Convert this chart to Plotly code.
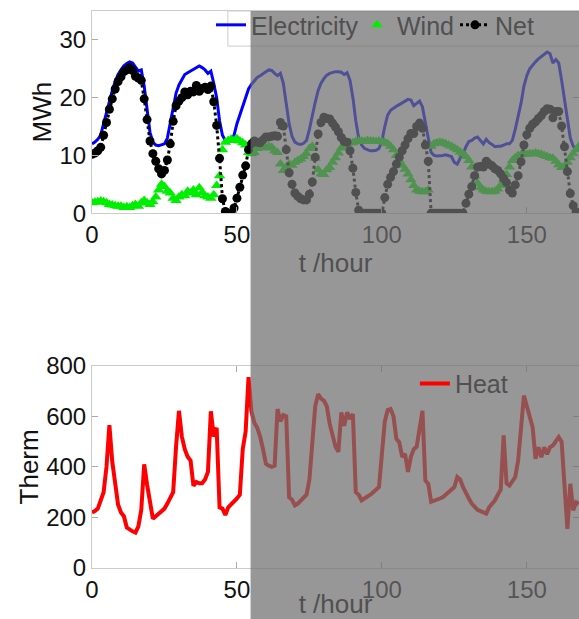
import plotly.graph_objects as go

# ---------------- data ----------------
hours = list(range(0, 169))

electricity = [
    12.0, 12.3, 12.8, 13.5, 15.5, 17.5, 19.5, 21.2, 22.8, 24.0,
    24.8, 25.5, 25.9, 26.2, 26.0, 25.2, 24.6, 24.8, 22.0, 18.0,
    14.0, 12.3, 11.8, 11.7, 11.8, 12.0, 13.0, 15.5, 18.5, 20.8,
    22.2, 23.2, 24.0, 24.3, 24.6, 25.0, 25.3, 25.5, 25.2, 24.8,
    24.2, 24.6, 22.5, 20.0, 16.0, 13.5, 12.6, 12.3, 12.5, 13.5,
    15.5, 17.0, 18.8, 20.0, 21.5, 22.3, 23.0, 23.5, 23.8, 24.2,
    24.5, 24.8, 24.7, 24.2, 23.8, 24.2, 22.5, 19.0, 15.5, 13.3,
    12.3, 12.0, 11.9, 12.1, 12.6, 14.5, 17.0, 19.2, 21.2, 22.5,
    23.3, 23.9, 24.2, 24.4, 24.5, 24.5, 24.4, 24.0, 24.3, 23.0,
    20.0, 16.0, 13.0, 11.8, 11.2, 11.0, 10.8, 10.8, 10.9, 11.2,
    12.5, 15.0, 17.0, 17.8, 18.2, 18.5, 18.8, 19.1, 19.4, 19.7,
    19.6, 18.6, 19.0, 19.4, 18.4, 15.5, 13.0, 10.5, 10.0, 9.9,
    9.9, 10.0, 10.1, 10.0, 9.8, 8.8, 8.5, 9.5, 10.3, 11.5,
    12.4, 12.6, 13.0, 13.2, 12.5, 12.0, 12.8, 12.2, 11.9, 11.5,
    11.6, 11.6, 11.8, 12.0, 12.0, 12.6, 14.5, 16.5, 19.0, 22.0,
    23.8, 25.0, 25.7, 26.2, 26.7, 27.1, 27.6, 27.9, 27.6, 26.0,
    26.6, 26.0, 23.0, 19.5, 16.0, 13.0, 11.6, 11.2, 11.0,
]

wind = [
    1.8, 1.9, 2.0, 2.1, 2.0, 1.8, 1.5, 1.4, 1.3, 1.2,
    1.2, 1.0, 1.1, 1.0, 1.3, 1.5, 1.2, 1.8, 2.2, 1.8,
    1.5, 2.0, 2.8, 4.0, 5.0, 4.6, 3.8, 3.5, 2.6, 2.2,
    2.8, 3.2, 3.0, 3.8, 3.5, 4.0, 3.2, 4.4, 3.6, 3.0,
    2.8, 2.6, 3.2, 4.8, 6.5, 11.0, 12.3, 12.6, 12.8, 12.6,
    12.9, 12.5, 12.2, 11.8, 10.5, 10.3, 10.5, 11.2, 11.6, 11.5,
    11.3, 11.6, 11.4, 10.8, 10.5, 8.5, 7.4, 8.0, 8.5, 8.3,
    8.8, 9.1, 9.4, 9.8, 10.3, 11.2, 11.6, 9.5, 7.5, 6.8,
    6.7, 7.5, 7.9, 8.8, 9.6, 10.4, 11.3, 11.6, 12.0, 12.2,
    12.2, 12.4, 12.5, 12.5, 12.4, 12.6, 12.5, 12.5, 12.4, 12.5,
    12.4, 12.3, 12.0, 11.6, 11.0, 10.0, 9.1, 8.3, 7.6, 6.8,
    5.8, 4.8, 4.0, 3.8, 3.7, 3.7, 4.0, 11.6, 12.0, 12.2,
    12.3, 12.2, 12.0, 11.8, 11.6, 11.3, 11.0, 10.6, 10.3, 9.8,
    9.1, 8.0, 6.5, 5.2, 4.4, 4.0, 3.8, 3.7, 3.7, 3.8,
    4.2, 4.8, 5.8, 6.7, 8.0, 9.1, 9.6, 10.0, 10.1, 10.2,
    10.2, 10.3, 10.3, 10.4, 10.3, 10.2, 10.0, 9.8, 9.6, 9.5,
    9.0, 8.4, 7.9, 8.0, 8.8, 9.6, 10.3, 11.0, 11.6,
]

net = [
    10.2, 10.4, 10.8, 11.4, 13.5, 15.7, 18.0, 19.8, 21.5, 22.8,
    23.6, 24.5, 24.8, 25.2, 24.7, 23.7, 23.4, 23.0, 19.8, 16.2,
    12.5, 10.3, 9.0, 7.7, 6.8, 7.4, 9.2, 12.0, 15.9, 18.6,
    19.4, 20.0, 21.0, 20.5, 21.1, 21.0, 22.1, 21.1, 21.6, 21.8,
    21.4, 22.0, 19.3, 15.2, 9.5, 2.5, 0.3, 0.0, 0.0, 0.9,
    2.6, 4.5, 6.6, 8.2, 11.0, 12.0, 12.5, 12.3, 12.2, 12.7,
    13.2, 13.2, 13.3, 13.4, 13.3, 15.7, 15.1, 11.0, 7.0, 5.0,
    3.5, 2.9, 2.5, 2.3, 2.3, 3.3, 5.4, 9.7, 13.7, 15.7,
    16.6, 16.4, 16.3, 15.6, 14.9, 14.1, 13.1, 12.4, 12.3, 10.8,
    7.8, 3.6, 0.5, 0.0, 0.0, 0.0, 0.0, 0.0, 0.0, 0.0,
    0.0, 2.7, 5.0, 6.2, 7.2, 8.5, 9.7, 10.8, 11.8, 12.9,
    13.8, 13.8, 15.0, 15.6, 14.7, 11.8, 9.0, 0.0, 0.0, 0.0,
    0.0, 0.0, 0.0, 0.0, 0.0, 0.0, 0.0, 0.0, 0.0, 1.7,
    3.3, 4.6, 6.5, 8.0, 8.1, 8.0, 9.0, 8.5, 8.2, 7.7,
    7.4, 6.8, 6.0, 5.3, 4.0, 3.5, 4.9, 6.5, 8.9, 11.8,
    13.6, 14.7, 15.4, 15.8, 16.4, 16.9, 17.6, 18.1, 18.0, 16.5,
    17.6, 17.6, 15.1, 11.5, 7.2, 3.4, 1.3, 0.2, 0.0,
]

heat = [
    220, 225, 235, 265, 300, 400, 565, 420, 340, 250,
    220, 205, 160, 150, 145, 140, 165, 230, 410, 330,
    260, 195, 205, 215, 225, 235, 255, 275, 300, 480,
    622, 520, 470, 440, 425, 325, 340, 335, 335, 350,
    380, 620, 520, 555, 240, 235, 210, 240, 250, 260,
    275, 290, 470, 540, 755, 620, 575, 555, 520, 470,
    412, 405, 400, 405, 629, 580, 605, 600, 280, 270,
    248, 255, 265, 275, 290, 350, 500, 640, 688, 670,
    662, 640, 570, 530, 480, 460, 616, 563, 616, 590,
    609, 300, 290, 268, 275, 280, 290, 300, 310, 320,
    450, 580, 625, 629, 600, 511, 498, 440, 451, 380,
    440, 470, 480, 557, 622, 346, 333, 262, 265, 270,
    275, 280, 290, 300, 310, 320, 360, 350, 320, 294,
    275, 255, 240, 230, 225, 218, 215, 240, 255, 268,
    290, 310, 525, 335, 326, 340, 360, 425, 560, 682,
    640, 597, 557, 432, 478, 438, 478, 450, 478, 485,
    500, 518, 500, 333, 155, 333, 228, 260, 254,
]

x_ticks = [0, 50, 100, 150]
mwh_ticks = [0, 10, 20, 30]
therm_ticks = [0, 200, 400, 600, 800]
x_range = [0, 168]
shade_start = 54.7  # hour where the grey shaded region begins

# ---------------- figure ----------------
FONT = "Arial, Liberation Sans, Helvetica, sans-serif"
fig = go.Figure()

fig.add_trace(go.Scatter(
    x=hours, y=electricity, name="Electricity", mode="lines",
    line=dict(color="#0000ff", width=3),
    legendwidth=101, xaxis="x", yaxis="y"))
fig.add_trace(go.Scatter(
    x=hours, y=wind, name="Wind", mode="markers",
    marker=dict(symbol="triangle-up", size=10, color="#00ee00"),
    legendwidth=53, xaxis="x", yaxis="y"))
fig.add_trace(go.Scatter(
    x=hours, y=net, name="Net", mode="lines+markers",
    line=dict(color="#000000", width=3, dash="dot"),
    marker=dict(symbol="circle", size=9, color="#000000"),
    xaxis="x", yaxis="y"))
fig.add_trace(go.Scatter(
    x=hours, y=heat, name="Heat", mode="lines",
    line=dict(color="#ff0000", width=4),
    legend="legend2", xaxis="x2", yaxis="y2"))

axis_common = dict(
    showline=True, linecolor="#cccccc", linewidth=1, mirror="ticks",
    ticks="inside", ticklen=6, tickcolor="#aaaaaa", showgrid=False,
    zeroline=False, tickfont=dict(size=24, color="#111111", family=FONT),
    ticklabelstandoff=0, automargin=False,
)

shade_x0 = (shade_start - x_range[0]) / (x_range[1] - x_range[0])
GREY_TEXT = "#505050"

fig.update_layout(
    width=579, height=619,
    margin=dict(l=92, r=0, t=11, b=51),
    paper_bgcolor="white", plot_bgcolor="white",
    font=dict(family=FONT, color="#111111"),
    showlegend=True,
    xaxis=dict(domain=[0, 1], anchor="y", range=x_range, tickvals=x_ticks,
               title=dict(text="t /hour", font=dict(size=26, color=GREY_TEXT), standoff=0),
               **axis_common),
    yaxis=dict(domain=[0.637, 1], anchor="x", range=[0, 35], tickvals=mwh_ticks,
               title=dict(text="MWh", font=dict(size=26, color="#111111"), standoff=0),
               **axis_common),
    xaxis2=dict(domain=[0, 1], anchor="y2", range=x_range, tickvals=x_ticks,
                title=dict(text="t /hour", font=dict(size=26, color=GREY_TEXT), standoff=5),
                **axis_common),
    yaxis2=dict(domain=[0, 0.363], anchor="x2", range=[0, 800], tickvals=therm_ticks,
                title=dict(text="Therm", font=dict(size=26, color="#111111"), standoff=0),
                **axis_common),
    legend=dict(x=0.2444, y=1.016, xanchor="left", yanchor="top", orientation="h",
                bgcolor="rgba(0,0,0,0)", borderwidth=0, itemwidth=30,
                font=dict(size=25, color=GREY_TEXT, family=FONT)),
    legend2=dict(x=0.663, y=0.372, xanchor="left", yanchor="top", orientation="h",
                 bgcolor="rgba(0,0,0,0)", borderwidth=0, itemwidth=30,
                 font=dict(size=25, color=GREY_TEXT, family=FONT)),
    shapes=[
        # legend box of the upper panel (drawn under the grey overlay)
        dict(type="rect", xref="paper", yref="paper", x0=0.279, x1=1.05, y0=0.937, y1=1.0,
             line=dict(color="#cccccc", width=1), fillcolor="white", layer="above"),
        # grey shaded (semi-transparent) region
        dict(type="rect", xref="paper", yref="paper", x0=shade_x0, x1=1.05, y0=-0.12, y1=1.0,
             line=dict(width=0), fillcolor="rgba(111,111,111,0.72)", layer="above"),
    ],
)

fig.write_html(
    "out.html",
    config={"displayModeBar": False},
    post_script="document.body.style.margin='0px';document.body.style.overflow='hidden';",
)
